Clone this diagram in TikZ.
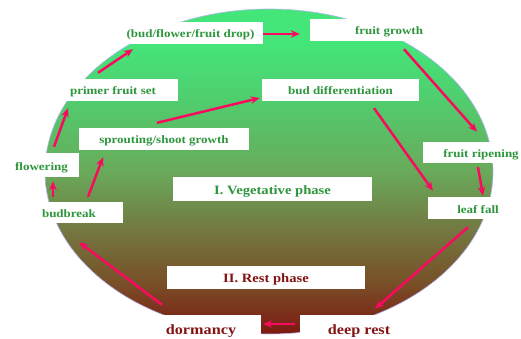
\documentclass[tikz,border=0pt]{standalone}
\usepackage{fontspec}
\usepackage{xcolor}
\newfontfamily\lblfont{Liberation Serif}[FakeStretch=1.15]
\usetikzlibrary{arrows.meta}

\definecolor{sbot}{RGB}{125,25,18}
\definecolor{sone}{RGB}{120,80,40}
\definecolor{stwo}{RGB}{115,120,65}
\definecolor{sthree}{RGB}{105,170,90}
\definecolor{sfour}{RGB}{80,205,110}
\definecolor{stop}{RGB}{68,230,122}
\pgfdeclareverticalshading{phasefill}{100bp}{color(0bp)=(sbot); color(25bp)=(sbot);
    color(33bp)=(sone); color(41bp)=(stwo); color(50bp)=(sthree);
    color(61bp)=(sfour); color(70bp)=(stop); color(100bp)=(stop)}

\begin{document}
\begin{tikzpicture}[x=1pt,y=-1pt,
        lbl/.style={fill=white,inner sep=0pt,minimum height=22pt,text height=10pt,text depth=0pt,
                text=lgreen,font=\lblfont\bfseries\fontsize{11.3}{13}\selectfont},
        big/.style={lbl,minimum height=24pt,font=\lblfont\bfseries\fontsize{12.7}{15}\selectfont},
        huge/.style={lbl,minimum height=28pt,text=lred,font=\lblfont\bfseries\fontsize{14.1}{17}\selectfont},
        cyc/.style={-{Stealth[length=9pt,width=7.5pt]},line width=2.5pt,draw=parrow}]

    \definecolor{lgreen}{RGB}{45,150,60}
    \definecolor{lred}{RGB}{132,20,20}
    \definecolor{parrow}{RGB}{250,10,95}
    \definecolor{lrim}{RGB}{180,180,240}

    \useasboundingbox (0,0) rectangle (521,339);
    \clip (0,0) rectangle (521,339);

    \shade[shading=phasefill] (269,171.5) ellipse [x radius=224pt,y radius=162.5pt];
    \draw[lrim,line width=0.6pt] (269,171.5) ellipse [x radius=224pt,y radius=162.5pt];

    % stages of the cycle
    \node[lbl,minimum width=145pt] (drop) at (190.5,33) {(bud/flower/fruit drop)};
    \node[lbl,minimum width=158pt] (growth) at (389,30) {fruit growth};
    \node[lbl,minimum width=130pt] (primer) at (113,90) {primer fruit set};
    \node[lbl,minimum width=157pt] (budiff) at (340.5,90) {bud differentiation};
    \node[lbl,minimum width=170pt] (sprout) at (164,139) {sprouting/shoot growth};
    \node[lbl,minimum width=75pt,minimum height=24pt] (flowering) at (41.5,165) {flowering};
    \node[lbl,minimum width=108pt,minimum height=21pt] (budbreak) at (69,212.5) {budbreak};
    \node[lbl,minimum width=116pt,minimum height=21pt] (ripening) at (481,152.5) {fruit ripening};
    \node[lbl,minimum width=100pt] (leaffall) at (478,208) {leaf fall};

    % phases
    \node[big,minimum width=199pt] (veg) at (272.5,189) {I. Vegetative phase};
    \node[big,minimum width=198pt,minimum height=23pt,text=lred] (rest) at (266,277.5) {II. Rest phase};
    \node[huge,minimum width=120pt] (dormancy) at (201,329) {dormancy};
    \node[huge,minimum width=118pt] (deeprest) at (359,329) {deep rest};

    % arrows
    \draw[cyc] ([xshift=12.5pt,yshift=6pt]flowering.north) -- ([xshift=-45pt,yshift=-7pt]primer.south);
    \draw[cyc] ([xshift=-15pt,yshift=6pt]primer.north) -- ([xshift=-57.5pt,yshift=-5pt]drop.south);
    \draw[cyc] ([yshift=-1pt]drop.east) -- ([xshift=-10pt,yshift=-4pt]growth.west);
    \draw[cyc] ([xshift=15pt,yshift=-8pt]growth.south) -- ([xshift=-4pt,yshift=10pt]ripening.north);
    \draw[cyc] ([xshift=-3pt,yshift=-4pt]ripening.south) -- ([xshift=5pt,yshift=1pt]leaffall.north);
    \draw[cyc] ([xshift=33.5pt,yshift=-7pt]budiff.south) -- ([xshift=-45pt,yshift=6pt]leaffall.north);
    \draw[cyc] ([xshift=-10pt,yshift=-8pt]leaffall.south) -- ([xshift=16pt,yshift=6pt]deeprest.north);
    \draw[cyc] ([xshift=-5pt,yshift=5pt]deeprest.west) -- ([xshift=2pt,yshift=5pt]dormancy.east);
    \draw[cyc] ([xshift=-39pt,yshift=10pt]dormancy.north) -- ([xshift=10pt,yshift=-19pt]budbreak.south);
    \draw[cyc] ([xshift=-16pt,yshift=5pt]budbreak.north) -- ([xshift=11.5pt,yshift=-4pt]flowering.south);
    \draw[cyc] ([xshift=19pt,yshift=5pt]budbreak.north) -- ([xshift=-61pt,yshift=-7pt]sprout.south);
    \draw[cyc] ([xshift=-7pt,yshift=5pt]sprout.north) -- ([xshift=-2pt,yshift=-8pt]budiff.west);

\end{tikzpicture}
\end{document}
